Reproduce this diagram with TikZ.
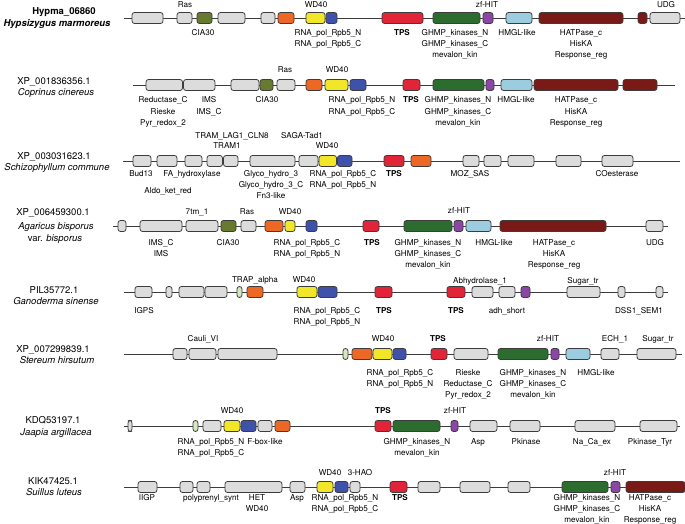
\documentclass[tikz,border=0pt]{standalone}
\usepackage{fontspec}
\setmainfont{TeX Gyre Heros}
\definecolor{cG}{RGB}{220,220,220}
\definecolor{cOl}{RGB}{104,122,48}
\definecolor{cOr}{RGB}{236,104,36}
\definecolor{cY}{RGB}{242,230,40}
\definecolor{cB}{RGB}{62,82,172}
\definecolor{cR}{RGB}{226,36,56}
\definecolor{cGn}{RGB}{44,108,46}
\definecolor{cP}{RGB}{140,70,165}
\definecolor{cLb}{RGB}{156,204,224}
\definecolor{cDr}{RGB}{122,26,22}
\definecolor{cLg}{RGB}{214,232,192}
\definecolor{cLine}{RGB}{60,60,60}
\tikzset{
  genebox/.style={draw=cLine,line width=0.8pt,rounded corners=2.5pt},
  axis/.style={draw=cLine,line width=0.8pt},
  lab/.style={anchor=base,inner sep=0pt,font=\fontsize{8.1}{10}\selectfont},
  ttl/.style={anchor=base,inner sep=0pt,font=\fontsize{9.5}{11}\selectfont},
}
\newcommand\gn[3]{\draw[genebox,fill=#3] (#1,\ry-5.5) rectangle (#2,\ry+5.5);}
\newcommand\lab[3]{\foreach \t [count=\i] in {#3} {\node[lab] at (#1,#2+3+\i*11-11) {\t};}}
\newcommand\ttlab[3]{\node[ttl] at (#1,#2+3.5) {#3};}
\begin{document}
\begin{tikzpicture}[x=1pt,y=-1pt]
\useasboundingbox[fill=white] (0,0) rectangle (685,524);
% ---------- Row 1
\def\ry{18}
\draw[axis] (124,\ry) -- (685,\ry);
\gn{132}{163}{cG}\gn{177}{192}{cG}\gn{197}{212}{cOl}\gn{218}{245}{cG}
\gn{261}{275}{cG}\gn{278}{294}{cOr}\gn{306}{325}{cY}\gn{326}{337}{cB}
\gn{382}{423}{cR}\gn{433}{480}{cGn}\gn{483}{493}{cP}\gn{506}{532}{cLb}
\gn{539}{623}{cDr}\gn{638}{647}{cDr}\gn{650}{680}{cG}
\ttlab{64}{11}{\textbf{Hypma\_06860}}
\ttlab{57}{23}{\textbf{\itshape Hypsizygus marmoreus}}
\lab{185}{5}{Ras}\lab{316}{5}{WD40}\lab{487}{5}{zf-HIT}\lab{666}{5}{UDG}
\lab{203}{33}{CIA30}
\lab{328}{33}{RNA\_pol\_Rpb5\_N,RNA\_pol\_Rpb5\_C}
\lab{402}{33}{\textbf{TPS}}
\lab{455}{33}{GHMP\_kinases\_N,GHMP\_kinases\_C,mevalon\_kin}
\lab{517}{33}{HMGL-like}
\lab{581}{33}{HATPase\_c,HisKA,Response\_reg}
% ---------- Row 2
\def\ry{85}
\draw[axis] (133,\ry) -- (675,\ry);
\gn{146}{182.5}{cG}\gn{183.5}{215}{cG}\gn{231}{259}{cG}\gn{260}{273}{cOl}
\gn{277}{295}{cG}\gn{306}{322}{cOr}\gn{325}{348}{cY}\gn{350}{366}{cB}
\gn{403}{420}{cR}\gn{433}{484}{cGn}\gn{486}{494}{cP}\gn{501}{532}{cLb}
\gn{534}{618}{cDr}\gn{623}{657}{cDr}
\ttlab{54}{81}{XP\_001836356.1}
\ttlab{56}{92}{\itshape Coprinus cinereus}
\lab{285}{70}{Ras}\lab{337}{70}{WD40}
\lab{163}{100}{Reductase\_C,Rieske,Pyr\_redox\_2}
\lab{209}{100}{IMS,IMS\_C}
\lab{267}{100}{CIA30}
\lab{362}{100}{RNA\_pol\_Rpb5\_N,RNA\_pol\_Rpb5\_C}
\lab{411}{100}{\textbf{TPS}}
\lab{458}{100}{GHMP\_kinases\_N,GHMP\_kinases\_C,mevalon\_kin}
\lab{516}{100}{HMGL-like}
\lab{576}{100}{HATPase\_c,HisKA,Response\_reg}
% ---------- Row 3
\def\ry{161}
\draw[axis] (123,\ry) -- (680,\ry);
\gn{133}{151}{cG}\gn{157}{177}{cG}\gn{185}{202}{cG}\gn{207}{222.5}{cG}
\gn{223.5}{238}{cG}\gn{250}{295}{cG}\gn{299}{318}{cG}\gn{319}{336.5}{cY}
\gn{337.5}{352}{cB}\gn{384}{404}{cR}\gn{411}{431}{cOr}\gn{463}{479}{cG}
\gn{484}{501}{cG}\gn{508}{534}{cG}\gn{556}{581}{cG}\gn{602}{633}{cG}
\ttlab{54}{156}{XP\_003031623.1}
\ttlab{57}{167}{\itshape Schizophyllum commune}
\lab{232}{136}{TRAM\_LAG1\_CLN8}\lab{227}{146}{TRAM1}
\lab{302}{136}{SAGA-Tad1}\lab{327}{146}{WD40}
\lab{141}{173}{Bud13}\lab{192}{173}{FA\_hydroxylase}\lab{168}{190}{Aldo\_ket\_red}
\lab{271}{173}{Glyco\_hydro\_3,Glyco\_hydro\_3\_C,Fn3-like}
\lab{343}{173}{RNA\_pol\_Rpb5\_C,RNA\_pol\_Rpb5\_N}
\lab{394}{173}{\textbf{TPS}}
\lab{470}{173}{MOZ\_SAS}
\lab{617}{173}{COesterase}
% ---------- Row 4
\def\ry{226}
\draw[axis] (113,\ry) -- (668,\ry);
\gn{118}{126}{cG}\gn{140}{182}{cG}\gn{186}{218}{cG}\gn{221}{236}{cOl}
\gn{241}{256}{cG}\gn{265}{283}{cOr}\gn{285}{295}{cY}\gn{306}{317}{cB}
\gn{363}{379}{cR}\gn{404}{452}{cGn}\gn{454}{463}{cP}\gn{466}{491}{cLb}
\gn{500}{606}{cDr}\gn{646}{663}{cG}
\ttlab{53}{212}{XP\_006459300.1}
\ttlab{56}{226}{\itshape Agaricus bisporus}
\ttlab{55}{238}{var. \itshape bisporus}
\lab{197}{211}{7tm\_1}\lab{247}{211}{Ras}\lab{290}{211}{WD40}\lab{459}{210}{zf-HIT}
\lab{161}{242}{IMS\_C,IMS}
\lab{228}{242}{CIA30}
\lab{307}{242}{RNA\_pol\_Rpb5\_C,RNA\_pol\_Rpb5\_N}
\lab{372}{242}{\textbf{TPS}}
\lab{428}{242}{GHMP\_kinases\_N,GHMP\_kinases\_C,mevalon\_kin}
\lab{494}{242}{HMGL-like}
\lab{554}{242}{HATPase\_c,HisKA,Response\_reg}
\lab{655}{242}{UDG}
% ---------- Row 5
\def\ry{292}
\draw[axis] (124,\ry) -- (668,\ry);
\gn{135}{152}{cG}\gn{166}{172}{cG}\gn{179}{204}{cG}\gn{205}{227}{cG}
\gn{237}{242}{cLg}\gn{247}{263}{cOr}\gn{297}{317}{cY}\gn{318}{337}{cB}
\gn{375}{392}{cR}\gn{447}{465}{cR}\gn{472}{493}{cG}\gn{499}{515}{cG}
\gn{521}{530}{cP}\gn{567}{600}{cG}\gn{618}{625}{cG}\gn{656}{663}{cG}
\ttlab{54}{290}{PIL35772.1}
\ttlab{56}{301}{\itshape Ganoderma sinense}
\lab{255}{279}{TRAP\_alpha}\lab{304}{279}{WD40}
\lab{480}{280}{Abhydrolase\_1}\lab{583}{280}{Sugar\_tr}
\lab{144}{310}{IGPS}
\lab{327}{310}{RNA\_pol\_Rpb5\_C,RNA\_pol\_Rpb5\_N}
\lab{384}{310}{\textbf{TPS}}\lab{456}{310}{\textbf{TPS}}
\lab{507}{310}{adh\_short}\lab{639}{310}{DSS1\_SEM1}
% ---------- Row 6
\def\ry{354}
\draw[axis] (124,\ry) -- (682,\ry);
\gn{173}{187}{cG}\gn{189}{216}{cG}\gn{218}{277}{cG}\gn{343}{348}{cLg}
\gn{352}{372}{cOr}\gn{373}{392}{cY}\gn{393}{406}{cB}\gn{431}{447}{cR}
\gn{454}{488}{cG}\gn{498}{548}{cGn}\gn{551}{559}{cP}\gn{566}{590}{cLb}
\gn{601}{619}{cG}\gn{637}{676}{cG}
\ttlab{53}{349}{XP\_007299839.1}
\ttlab{57}{360}{\itshape Stereum hirsutum}
\lab{203}{338}{Cauli\_VI}\lab{383}{338}{WD40}\lab{438}{338}{\textbf{TPS}}
\lab{548}{338}{zf-HIT}\lab{615}{338}{ECH\_1}\lab{658}{338}{Sugar\_tr}
\lab{400}{372}{RNA\_pol\_Rpb5\_C,RNA\_pol\_Rpb5\_N}
\lab{468}{372}{Rieske,Reductase\_C,Pyr\_redox\_2}
\lab{533}{372}{GHMP\_kinases\_N,GHMP\_kinases\_C,mevalon\_kin}
\lab{596}{372}{HMGL-like}
% ---------- Row 7
\def\ry{426}
\draw[axis] (124,\ry) -- (680,\ry);
\gn{128}{132}{cG}\gn{193}{198}{cLg}\gn{203}{221}{cG}\gn{224}{240}{cY}
\gn{241}{256}{cB}\gn{258}{272}{cG}\gn{275}{290}{cOr}\gn{375}{391}{cR}
\gn{393}{440}{cGn}\gn{451}{458}{cP}\gn{470}{497}{cG}\gn{510}{540}{cG}
\gn{575}{615}{cG}\gn{640}{677}{cG}
\ttlab{53}{420}{KDQ53197.1}
\ttlab{56}{432}{\itshape Jaapia argillacea}
\lab{232}{410}{WD40}\lab{383}{410}{\textbf{TPS}}\lab{455}{410}{zf-HIT}
\lab{211}{441}{RNA\_pol\_Rpb5\_N,RNA\_pol\_Rpb5\_C}
\lab{265}{441}{F-box-like}
\lab{417}{441}{GHMP\_kinases\_N,mevalon\_kin}
\lab{478}{441}{Asp}\lab{526}{441}{Pkinase}\lab{592}{441}{Na\_Ca\_ex}
\lab{650}{441}{Pkinase\_Tyr}
% ---------- Row 8
\def\ry{487}
\draw[axis] (124,\ry) -- (685,\ry);
\gn{138}{157}{cG}\gn{180}{193}{cG}\gn{197}{210}{cG}\gn{225}{282}{cG}
\gn{290}{305}{cG}\gn{317}{333}{cY}\gn{335}{348}{cB}\gn{350}{360}{cG}
\gn{390}{407}{cR}\gn{418}{440}{cG}\gn{460}{490}{cG}\gn{508}{530}{cG}
\gn{562}{608}{cGn}\gn{611}{620}{cP}\gn{626}{685}{cDr}
\ttlab{53}{481}{KIK47425.1}
\ttlab{54}{492}{\itshape Suillus luteus}
\lab{330}{472}{WD40}\lab{360}{472}{3-HAO}\lab{615}{472}{zf-HIT}
\lab{147}{497}{IIGP}\lab{211}{497}{polyprenyl\_synt}
\lab{257}{497}{HET,WD40}\lab{297}{497}{Asp}
\lab{345}{497}{RNA\_pol\_Rpb5\_N,RNA\_pol\_Rpb5\_C}
\lab{400}{497}{\textbf{TPS}}
\lab{587}{497}{GHMP\_kinases\_N,GHMP\_kinases\_C,mevalon\_kin}
\lab{650}{497}{HATPase\_c,HisKA,Response\_reg}
\end{tikzpicture}
\end{document}
